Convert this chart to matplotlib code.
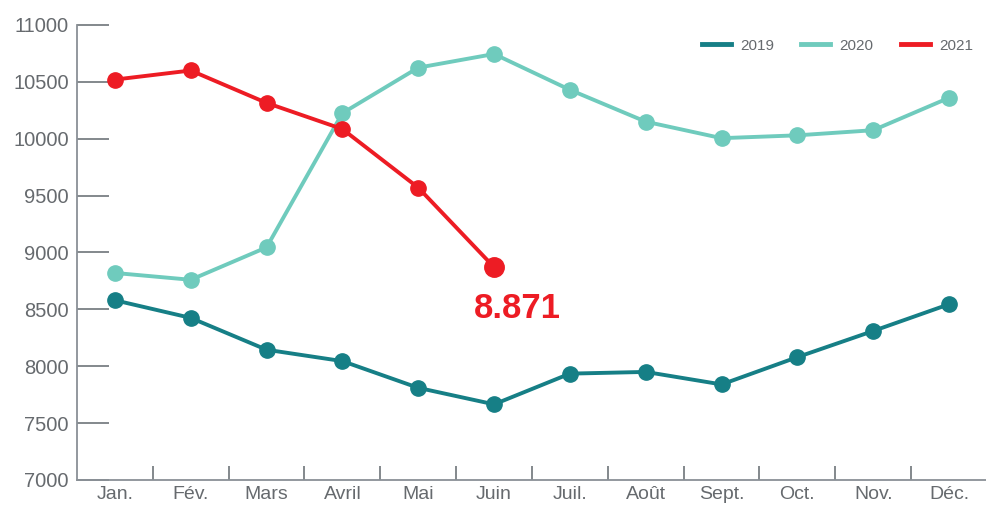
import matplotlib
matplotlib.use("Agg")
import matplotlib.pyplot as plt

# Month labels and monthly values.
months = ["Jan.", "Fév.", "Mars", "Avril", "Mai", "Juin",
          "Juil.", "Août", "Sept.", "Oct.", "Nov.", "Déc."]
v2019 = [8580, 8425, 8145, 8045, 7810, 7665, 7935, 7950, 7840, 8080, 8310, 8545]
v2020 = [8820, 8760, 9045, 10225, 10625, 10745, 10430, 10150, 10005, 10030, 10075, 10360]
v2021 = [10520, 10600, 10315, 10085, 9570, 8871]
last_label = "8.871"

plt.rcParams["font.family"] = ["Liberation Sans", "DejaVu Sans"]

c19, c20, c21 = "#167f86", "#6fcbbd", "#ed1c24"
grey = "#666a6e"

fig = plt.figure(figsize=(9.87, 5.07), dpi=100)
ax = fig.add_axes([0.078, 0.0533, 0.922, 0.8974])

x = list(range(len(months)))
ax.plot(x, v2019, color=c19, lw=2.8, marker="o", ms=11, label="2019")
ax.plot(x, v2020, color=c20, lw=2.8, marker="o", ms=11, label="2020")
ax.plot(x[:len(v2021)], v2021, color=c21, lw=2.8, marker="o", ms=11, label="2021")
ax.plot(x[len(v2021) - 1], v2021[-1], color=c21, marker="o", ms=14)
ax.annotate(last_label, (x[len(v2021) - 1], v2021[-1]), xytext=(17, -30),
            textcoords="offset points", ha="center", va="center",
            color=c21, fontsize=25, fontweight="bold")

ax.set_xlim(-0.5, len(months) - 0.5)
ax.set_ylim(7000, 11000)
ax.set_yticks(range(7000, 11001, 500))
ax.set_xticks(x)
ax.set_xticklabels(months)
ax.set_xticks([i + 0.5 for i in range(len(months) - 1)], minor=True)

for s in ["top", "right"]:
    ax.spines[s].set_visible(False)
for s in ["left", "bottom"]:
    ax.spines[s].set_color("#8a9096")
    ax.spines[s].set_linewidth(1.3)

ax.tick_params(axis="y", direction="in", length=23, width=1.2, color="#6e7479",
               labelsize=14.5, labelcolor=grey, pad=6)
ax.tick_params(axis="x", which="major", length=0, labelsize=14, labelcolor=grey, pad=4)
ax.tick_params(axis="x", which="minor", direction="in", length=10, width=1.2, color="#6e7479")

leg = ax.legend(loc="upper right", ncol=3, frameon=False, fontsize=11,
                handlelength=1.9, handletextpad=0.6, columnspacing=1.8,
                bbox_to_anchor=(1.0, 1.0))
for h in leg.legend_handles:
    h.set_marker("")
    h.set_linewidth(3.5)
for t in leg.get_texts():
    t.set_color(grey)

fig.savefig("out.png", dpi=100)
